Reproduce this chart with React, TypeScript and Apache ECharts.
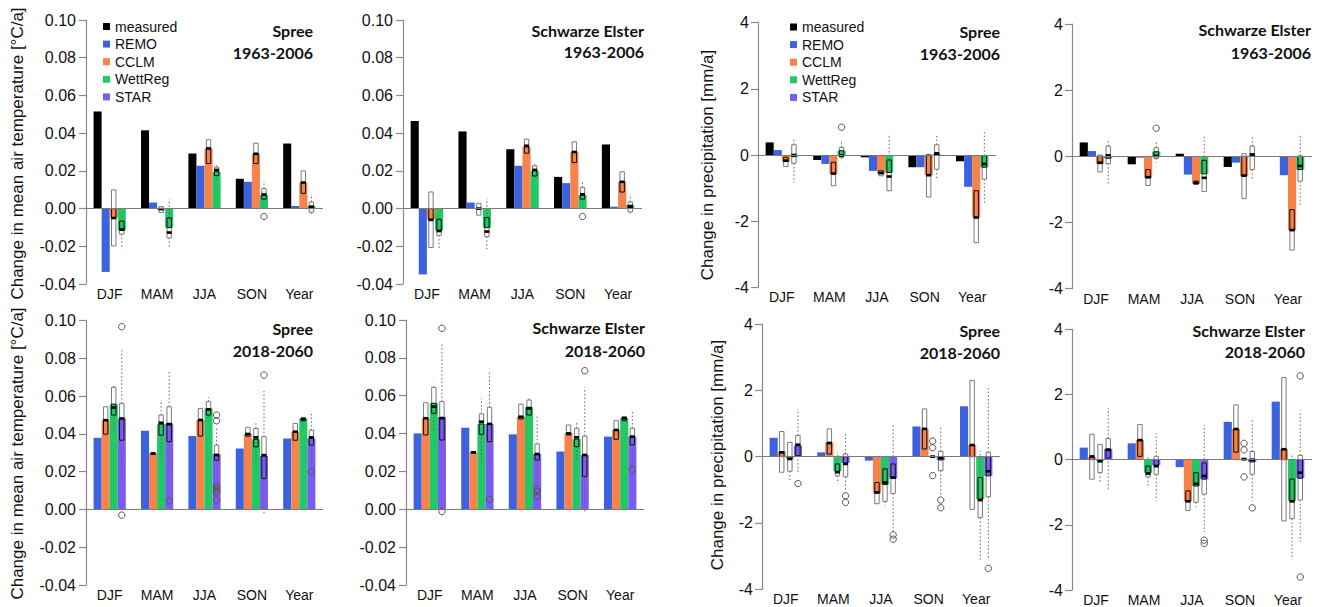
import React, { useEffect, useRef } from 'react';
import * as echarts from 'echarts';

// ---------- data ----------
const categories = ['DJF', 'MAM', 'JJA', 'SON', 'Year'];
const legendNames = ['measured', 'REMO', 'CCLM', 'WettReg', 'STAR'];

// Temperature, Spree 1963-2006
const tSpreePastMeasured = [0.0515, 0.0415, 0.0292, 0.0158, 0.0345];
const tSpreePastREMO = [-0.0336, 0.0032, 0.0227, 0.0142, 0.0014];
const tSpreePastCCLM = [-0.0048, -0.0005, 0.0319, 0.029, 0.0138];
const tSpreePastWettReg = [-0.0115, -0.0101, 0.0196, 0.0071, 0.0014];
const tSpreePastCCLMBox = [
  [-0.0198, -0.0198, -0.005, 0.0099, 0.0099],
  [-0.0021, -0.0021, -0.0003, 0.001, 0.001],
  [0.0239, 0.0239, 0.0319, 0.0365, 0.0365],
  [0.0239, 0.0239, 0.029, 0.0347, 0.0347],
  [0.0081, 0.0081, 0.0138, 0.02, 0.02],
];
const tSpreePastWettRegBox = [
  [-0.0215, -0.0135, -0.0111, -0.0067, -0.004],
  [-0.0215, -0.0155, -0.0127, -0.005, 0.005],
  [0.015, 0.0175, 0.0205, 0.022, 0.0235],
  [0.0023, 0.005, 0.0075, 0.0106, 0.0147],
  [-0.003, -0.002, 0.0008, 0.0035, 0.0076],
];
const tSpreePastWettRegOut = [[], [], [], [-0.0042], []];

// Temperature, Schwarze Elster 1963-2006
const tSEPastMeasured = [0.0465, 0.0409, 0.0315, 0.0168, 0.034];
const tSEPastREMO = [-0.0349, 0.0032, 0.0227, 0.0135, 0.001];
const tSEPastCCLM = [-0.0057, -0.0003, 0.0327, 0.0301, 0.0142];
const tSEPastWettReg = [-0.0115, -0.0101, 0.02, 0.0071, 0.0018];
const tSEPastCCLMBox = [
  [-0.0207, -0.0207, -0.006, 0.0088, 0.0088],
  [-0.0035, -0.0035, 0, 0.0028, 0.0028],
  [0.0294, 0.0294, 0.0333, 0.0368, 0.0368],
  [0.0244, 0.0244, 0.03, 0.0354, 0.0354],
  [0.0088, 0.0088, 0.0142, 0.0195, 0.0195],
];
const tSEPastWettRegBox = [
  [-0.0216, -0.0142, -0.0119, -0.0057, -0.0035],
  [-0.022, -0.0149, -0.0122, -0.0048, 0.0053],
  [0.0156, 0.0173, 0.0205, 0.0227, 0.0235],
  [0.0023, 0.005, 0.0076, 0.0111, 0.0147],
  [-0.0027, -0.0018, 0.001, 0.0035, 0.0076],
];
const tSEPastWettRegOut = [[], [], [], [-0.0042], []];

// Precipitation, Spree 1963-2006
const pSpreePastMeasured = [0.38, -0.15, -0.07, -0.37, -0.19];
const pSpreePastREMO = [0.15, -0.27, -0.48, -0.37, -0.96];
const pSpreePastCCLM = [-0.2, -0.58, -0.56, -0.61, -1.89];
const pSpreePastWettReg = [-0.05, 0.13, -0.53, 0.03, -0.37];
const pSpreePastCCLMBox = [
  [-0.35, -0.35, -0.17, -0.07, -0.07],
  [-0.93, -0.93, -0.56, -0.22, -0.22],
  [-0.63, -0.63, -0.55, -0.48, -0.48],
  [-1.27, -1.27, -0.61, 0.01, 0.01],
  [-2.65, -2.65, -1.89, -1.08, -1.08],
];
const pSpreePastWettRegBox = [
  [-0.83, -0.25, 0, 0.31, 0.49],
  [-0.19, -0.07, -0.02, 0.23, 0.44],
  [-1.1, -1.08, -0.65, -0.15, 0.64],
  [-0.73, -0.43, 0.05, 0.31, 0.59],
  [-1.51, -0.73, -0.27, -0.02, 0.69],
];
const pSpreePastWettRegOut = [[], [0.84], [], [], []];

// Precipitation, Schwarze Elster 1963-2006
const pSEPastMeasured = [0.42, -0.24, 0.08, -0.32, -0.01];
const pSEPastREMO = [0.16, -0.04, -0.55, -0.19, -0.57];
const pSEPastCCLM = [-0.22, -0.65, -0.83, -0.6, -2.23];
const pSEPastWettReg = [-0.06, 0.14, -0.53, 0.02, -0.4];
const pSEPastCCLMBox = [
  [-0.47, -0.47, -0.19, 0.04, 0.04],
  [-0.88, -0.88, -0.63, -0.4, -0.4],
  [-0.85, -0.85, -0.8, -0.75, -0.75],
  [-1.28, -1.28, -0.58, 0.08, 0.08],
  [-2.83, -2.83, -2.23, -1.61, -1.61],
];
const pSEPastWettRegBox = [
  [-0.83, -0.22, 0.03, 0.31, 0.49],
  [-0.19, -0.06, 0.01, 0.26, 0.42],
  [-1.08, -1.06, -0.65, -0.12, 0.62],
  [-0.73, -0.4, 0.06, 0.31, 0.59],
  [-1.51, -0.75, -0.29, 0.01, 0.69],
];
const pSEPastWettRegOut = [[], [0.85], [], [], []];

// Temperature, Spree 2018-2060
const tSpreeFutREMO = [0.038, 0.0417, 0.0389, 0.0323, 0.0376];
const tSpreeFutCCLM = [0.0473, 0.0297, 0.0474, 0.04, 0.0412];
const tSpreeFutWettReg = [0.0558, 0.0452, 0.0535, 0.0371, 0.0482];
const tSpreeFutSTAR = [0.0482, 0.0456, 0.0293, 0.0283, 0.0376];
const tSpreeFutCCLMBox = [
  [0.0399, 0.0399, 0.0473, 0.0544, 0.0544],
  [0.0293, 0.0293, 0.0297, 0.0299, 0.0299],
  [0.0389, 0.0389, 0.0474, 0.0535, 0.0535],
  [0.0389, 0.0389, 0.04, 0.0435, 0.0435],
  [0.0367, 0.0367, 0.0412, 0.0456, 0.0456],
];
const tSpreeFutWettRegBox = [
  [0.041, 0.05, 0.054, 0.0647, 0.0665],
  [0.0253, 0.0394, 0.0459, 0.05, 0.058],
  [0.0488, 0.05, 0.053, 0.0571, 0.0594],
  [0.0253, 0.0332, 0.0382, 0.0429, 0.0459],
  [0.0468, 0.047, 0.0479, 0.0488, 0.049],
];
const tSpreeFutSTARBox = [
  [0.0129, 0.0367, 0.0482, 0.0562, 0.0845],
  [0.0191, 0.0359, 0.0452, 0.0544, 0.073],
  [0.014, 0.0261, 0.0288, 0.0341, 0.043],
  [-0.002, 0.0164, 0.0288, 0.0385, 0.0641],
  [0.0217, 0.0341, 0.0382, 0.042, 0.0518],
];
const tSpreeFutSTAROut = [
  [0.0968, -0.003],
  [0.0046],
  [0.05, 0.047, 0.0125, 0.0115, 0.0102, 0.009, 0.005],
  [0.0712],
  [0.02],
];

// Temperature, Schwarze Elster 2018-2060
const tSEFutREMO = [0.0401, 0.0431, 0.0396, 0.0305, 0.0384];
const tSEFutCCLM = [0.0481, 0.0301, 0.0489, 0.0401, 0.0419];
const tSEFutWettReg = [0.056, 0.0451, 0.0539, 0.037, 0.0481];
const tSEFutSTAR = [0.0486, 0.0451, 0.0292, 0.0287, 0.0384];
const tSEFutCCLMBox = [
  [0.0393, 0.0393, 0.0481, 0.0563, 0.0563],
  [0.0297, 0.0297, 0.0301, 0.0303, 0.0303],
  [0.0477, 0.0477, 0.0489, 0.0555, 0.0555],
  [0.0393, 0.0393, 0.0401, 0.0445, 0.0445],
  [0.037, 0.037, 0.0419, 0.0468, 0.0468],
];
const tSEFutWettRegBox = [
  [0.0419, 0.0507, 0.0542, 0.0644, 0.0665],
  [0.0252, 0.0396, 0.0463, 0.0504, 0.0586],
  [0.0493, 0.0498, 0.0533, 0.0577, 0.0595],
  [0.0261, 0.0331, 0.038, 0.0428, 0.0463],
  [0.0466, 0.0468, 0.0481, 0.049, 0.0492],
];
const tSEFutSTARBox = [
  [0.0141, 0.0366, 0.0481, 0.0569, 0.0877],
  [0.0181, 0.0357, 0.0451, 0.0539, 0.0722],
  [0.012, 0.0261, 0.0292, 0.0345, 0.0489],
  [-0.0018, 0.0173, 0.0287, 0.0387, 0.0644],
  [0.0217, 0.034, 0.0384, 0.0428, 0.0521],
];
const tSEFutSTAROut = [
  [0.0956, -0.0012],
  [0.0053],
  [0.0106, 0.0093, 0.0067],
  [0.0732],
  [0.0211],
];

// Precipitation, Spree 2018-2060
const pSpreeFutREMO = [0.57, 0.13, -0.12, 0.91, 1.52];
const pSpreeFutCCLM = [0.15, 0.43, -1.1, 0.84, 0.35];
const pSpreeFutWettReg = [-0.05, -0.44, -0.84, 0.0, -1.28];
const pSpreeFutSTAR = [0.33, -0.19, -0.66, -0.1, -0.58];
const pSpreeFutCCLMBox = [
  [-0.47, -0.47, 0.13, 0.76, 0.76],
  [0.08, 0.08, 0.41, 0.84, 0.84],
  [-1.42, -1.42, -1.08, -0.78, -0.78],
  [0.23, 0.23, 0.84, 1.44, 1.44],
  [-1.59, -1.59, 0.35, 2.3, 2.3],
];
const pSpreeFutWettRegBox = [
  [-0.73, -0.44, -0.07, 0.43, 0.43],
  [-0.81, -0.58, -0.47, -0.22, 0.13],
  [-1.48, -1.35, -0.78, -0.37, -0.37],
  [-0.02, -0.02, 0.0, 0.02, 0.02],
  [-3.15, -1.84, -1.31, -0.63, 0.18],
];
const pSpreeFutWettRegOut = [[], [], [], [0.47, 0.27, -0.57], []];
const pSpreeFutSTARBox = [
  [-0.53, 0.03, 0.36, 0.64, 1.44],
  [-1.05, -0.61, -0.22, 0.08, 0.71],
  [-2.29, -1.11, -0.63, -0.22, 0.94],
  [-1.18, -0.42, -0.04, 0.16, 0.89],
  [-3.1, -1.21, -0.44, 0.13, 2.13],
];
const pSpreeFutSTAROut = [[-0.81], [-1.18, -1.38], [-2.36, -2.49], [-1.31, -1.54], [-3.37]];

// Precipitation, Schwarze Elster 2018-2060
const pSEFutREMO = [0.37, 0.5, -0.23, 1.16, 1.78];
const pSEFutCCLM = [0.07, 0.6, -1.28, 0.94, 0.32];
const pSEFutWettReg = [-0.03, -0.4, -0.81, 0.0, -1.26];
const pSEFutSTAR = [0.33, -0.17, -0.6, -0.07, -0.57];
const pSEFutCCLMBox = [
  [-0.6, -0.6, 0.1, 0.78, 0.78],
  [0.1, 0.1, 0.6, 1.08, 1.08],
  [-1.56, -1.56, -1.28, -0.96, -0.96],
  [0.23, 0.23, 0.94, 1.68, 1.68],
  [-1.88, -1.88, 0.32, 2.52, 2.52],
];
const pSEFutWettRegBox = [
  [-0.71, -0.4, -0.05, 0.47, 0.47],
  [-0.81, -0.53, -0.43, -0.2, 0.15],
  [-1.46, -1.31, -0.74, -0.4, -0.4],
  [-0.02, -0.02, 0.02, 0.03, 0.03],
  [-3.07, -1.81, -1.28, -0.6, 0.2],
];
const pSEFutWettRegOut = [[], [], [], [0.5, 0.3, -0.53], []];
const pSEFutSTARBox = [
  [-0.96, 0.05, 0.3, 0.65, 1.58],
  [-1.26, -0.45, -0.2, 0.1, 0.81],
  [-2.22, -1.06, -0.5, -0.1, 1.06],
  [-1.26, -0.45, 0.0, 0.25, 1.21],
  [-2.52, -1.24, -0.4, 0.13, 1.51],
];
const pSEFutSTAROut = [[], [], [-2.47, -2.57], [-1.48], [2.57, -3.6]];

// ---------- styling ----------
const COLORS: Record<string, string> = {
  measured: '#000000',
  REMO: '#3d62e0',
  CCLM: '#f7834b',
  WettReg: '#20c965',
  STAR: '#7b5cf2',
};
const FONT = '"Liberation Sans", Arial, sans-serif';
const TITLE_FONT = 'Lato, "Open Sans", sans-serif';
const CAT_GAP = 0.32;

type BoxDef = { name: string; barIdx: number; stats: number[][]; out?: number[][]; bars: number[] };
type Panel = {
  grid: { left: number; top: number; width: number; height: number };
  kind: 'temp' | 'precip';
  title: [string, string];
  titlePos: [number, number, number];
  bars: { name: string; values: number[] }[];
  boxes: BoxDef[];
};

const empty5 = [[], [], [], [], []];

const panels: Panel[] = [
  {
    grid: { left: 86, top: 20, width: 237, height: 264 },
    kind: 'temp', title: ['Spree', '1963-2006'], titlePos: [313, 30.7, 52.3],
    bars: [
      { name: 'measured', values: tSpreePastMeasured },
      { name: 'REMO', values: tSpreePastREMO },
      { name: 'CCLM', values: tSpreePastCCLM },
      { name: 'WettReg', values: tSpreePastWettReg },
    ],
    boxes: [
      { name: 'CCLM', barIdx: 2, stats: tSpreePastCCLMBox, bars: tSpreePastCCLM },
      { name: 'WettReg', barIdx: 3, stats: tSpreePastWettRegBox, out: tSpreePastWettRegOut, bars: tSpreePastWettReg },
    ],
  },
  {
    grid: { left: 403, top: 20, width: 239, height: 264 },
    kind: 'temp', title: ['Schwarze Elster', '1963-2006'], titlePos: [644, 30, 51.7],
    bars: [
      { name: 'measured', values: tSEPastMeasured },
      { name: 'REMO', values: tSEPastREMO },
      { name: 'CCLM', values: tSEPastCCLM },
      { name: 'WettReg', values: tSEPastWettReg },
    ],
    boxes: [
      { name: 'CCLM', barIdx: 2, stats: tSEPastCCLMBox, bars: tSEPastCCLM },
      { name: 'WettReg', barIdx: 3, stats: tSEPastWettRegBox, out: tSEPastWettRegOut, bars: tSEPastWettReg },
    ],
  },
  {
    grid: { left: 758, top: 22.7, width: 238, height: 264.6 },
    kind: 'precip', title: ['Spree', '1963-2006'], titlePos: [1000, 31, 53.3],
    bars: [
      { name: 'measured', values: pSpreePastMeasured },
      { name: 'REMO', values: pSpreePastREMO },
      { name: 'CCLM', values: pSpreePastCCLM },
      { name: 'WettReg', values: pSpreePastWettReg },
    ],
    boxes: [
      { name: 'CCLM', barIdx: 2, stats: pSpreePastCCLMBox, bars: pSpreePastCCLM },
      { name: 'WettReg', barIdx: 3, stats: pSpreePastWettRegBox, out: pSpreePastWettRegOut, bars: pSpreePastWettReg },
    ],
  },
  {
    grid: { left: 1072, top: 24, width: 240, height: 264.7 },
    kind: 'precip', title: ['Schwarze Elster', '1963-2006'], titlePos: [1311, 29.7, 52.3],
    bars: [
      { name: 'measured', values: pSEPastMeasured },
      { name: 'REMO', values: pSEPastREMO },
      { name: 'CCLM', values: pSEPastCCLM },
      { name: 'WettReg', values: pSEPastWettReg },
    ],
    boxes: [
      { name: 'CCLM', barIdx: 2, stats: pSEPastCCLMBox, bars: pSEPastCCLM },
      { name: 'WettReg', barIdx: 3, stats: pSEPastWettRegBox, out: pSEPastWettRegOut, bars: pSEPastWettReg },
    ],
  },
  {
    grid: { left: 86, top: 320.7, width: 237, height: 264.3 },
    kind: 'temp', title: ['Spree', '2018-2060'], titlePos: [313, 328.3, 350.7],
    bars: [
      { name: 'REMO', values: tSpreeFutREMO },
      { name: 'CCLM', values: tSpreeFutCCLM },
      { name: 'WettReg', values: tSpreeFutWettReg },
      { name: 'STAR', values: tSpreeFutSTAR },
    ],
    boxes: [
      { name: 'CCLM', barIdx: 1, stats: tSpreeFutCCLMBox, bars: tSpreeFutCCLM },
      { name: 'WettReg', barIdx: 2, stats: tSpreeFutWettRegBox, bars: tSpreeFutWettReg },
      { name: 'STAR', barIdx: 3, stats: tSpreeFutSTARBox, out: tSpreeFutSTAROut, bars: tSpreeFutSTAR },
    ],
  },
  {
    grid: { left: 406, top: 320, width: 238, height: 265 },
    kind: 'temp', title: ['Schwarze Elster', '2018-2060'], titlePos: [645, 327.7, 350],
    bars: [
      { name: 'REMO', values: tSEFutREMO },
      { name: 'CCLM', values: tSEFutCCLM },
      { name: 'WettReg', values: tSEFutWettReg },
      { name: 'STAR', values: tSEFutSTAR },
    ],
    boxes: [
      { name: 'CCLM', barIdx: 1, stats: tSEFutCCLMBox, bars: tSEFutCCLM },
      { name: 'WettReg', barIdx: 2, stats: tSEFutWettRegBox, bars: tSEFutWettReg },
      { name: 'STAR', barIdx: 3, stats: tSEFutSTARBox, out: tSEFutSTAROut, bars: tSEFutSTAR },
    ],
  },
  {
    grid: { left: 762, top: 324, width: 238, height: 265.3 },
    kind: 'precip', title: ['Spree', '2018-2060'], titlePos: [1000, 330.7, 352.7],
    bars: [
      { name: 'REMO', values: pSpreeFutREMO },
      { name: 'CCLM', values: pSpreeFutCCLM },
      { name: 'WettReg', values: pSpreeFutWettReg },
      { name: 'STAR', values: pSpreeFutSTAR },
    ],
    boxes: [
      { name: 'CCLM', barIdx: 1, stats: pSpreeFutCCLMBox, bars: pSpreeFutCCLM },
      { name: 'WettReg', barIdx: 2, stats: pSpreeFutWettRegBox, out: pSpreeFutWettRegOut, bars: pSpreeFutWettReg },
      { name: 'STAR', barIdx: 3, stats: pSpreeFutSTARBox, out: pSpreeFutSTAROut, bars: pSpreeFutSTAR },
    ],
  },
  {
    grid: { left: 1072, top: 329.3, width: 240, height: 264 },
    kind: 'precip', title: ['Schwarze Elster', '2018-2060'], titlePos: [1305, 330, 351.7],
    bars: [
      { name: 'REMO', values: pSEFutREMO },
      { name: 'CCLM', values: pSEFutCCLM },
      { name: 'WettReg', values: pSEFutWettReg },
      { name: 'STAR', values: pSEFutSTAR },
    ],
    boxes: [
      { name: 'CCLM', barIdx: 1, stats: pSEFutCCLMBox, bars: pSEFutCCLM },
      { name: 'WettReg', barIdx: 2, stats: pSEFutWettRegBox, out: pSEFutWettRegOut, bars: pSEFutWettReg },
      { name: 'STAR', barIdx: 3, stats: pSEFutSTARBox, out: pSEFutSTAROut, bars: pSEFutSTAR },
    ],
  },
];

function makeBoxRenderer(nBars: number, barIdx: number, color: string, outliers: number[][]) {
  return (params: any, api: any) => {
    const cat = api.value(0);
    const lo = api.value(1), q1 = api.value(2), med = api.value(3), q3 = api.value(4), hi = api.value(5), bar = api.value(6);
    const band = api.size([1, 0])[0];
    const avail = band * (1 - CAT_GAP);
    const bw = avail / nBars;
    const cx = api.coord([cat, 0])[0] - avail / 2 + bw * (barIdx + 0.5);
    const y = (v: number) => api.coord([cat, v])[1];
    const hw = 2.2;
    const children: any[] = [];
    const dotted = { stroke: '#666', lineWidth: 1, lineDash: [1.5, 2.2] };
    if (hi > q3) children.push({ type: 'line', shape: { x1: cx, y1: y(q3), x2: cx, y2: y(hi) }, style: dotted });
    if (lo < q1) children.push({ type: 'line', shape: { x1: cx, y1: y(q1), x2: cx, y2: y(lo) }, style: dotted });
    children.push({
      type: 'rect',
      shape: { x: cx - hw, y: y(q3), width: hw * 2, height: Math.max(0.5, y(q1) - y(q3)) },
      style: { fill: '#ffffff', stroke: '#7a7a7a', lineWidth: 1 },
    });
    const a = Math.max(q1, Math.min(0, bar));
    const b = Math.min(q3, Math.max(0, bar));
    if (b > a) {
      children.push({
        type: 'rect',
        shape: { x: cx - hw, y: y(b), width: hw * 2, height: y(a) - y(b) },
        style: { fill: color, stroke: '#111', lineWidth: 1 },
      });
    }
    children.push({
      type: 'rect',
      shape: { x: cx - hw - 0.3, y: y(med) - 1.3, width: hw * 2 + 0.6, height: 2.6 },
      style: { fill: '#000' },
    });
    (outliers[params.dataIndex] || []).forEach((o) => {
      children.push({
        type: 'circle',
        shape: { cx, cy: y(o), r: 3.2 },
        style: { fill: 'none', stroke: '#555', lineWidth: 1 },
      });
    });
    return { type: 'group', children };
  };
}

function buildOption() {
  const grid: any[] = [];
  const xAxis: any[] = [];
  const yAxis: any[] = [];
  const series: any[] = [];
  const graphic: any[] = [];

  panels.forEach((p, k) => {
    grid.push({ ...p.grid, containLabel: false });
    xAxis.push({
      type: 'category', gridIndex: k, data: categories,
      axisLine: { show: false }, axisTick: { show: false },
      axisLabel: { fontSize: 14, color: '#111', fontFamily: FONT, margin: 3 },
    });
    const isT = p.kind === 'temp';
    yAxis.push({
      type: 'value', gridIndex: k,
      min: isT ? -0.04 : -4, max: isT ? 0.1 : 4, interval: isT ? 0.02 : 2,
      splitLine: { show: false },
      axisLine: { show: true, lineStyle: { color: '#8a8a8a', width: 1.2 } },
      axisTick: { show: true, length: 7, lineStyle: { color: '#8a8a8a', width: 1.2 } },
      axisLabel: {
        fontSize: 16, color: '#111', fontFamily: FONT, margin: isT ? 10 : 9,
        formatter: (v: number) => (isT ? v.toFixed(2) : String(Math.round(v))),
      },
    });
    const n = p.bars.length;
    p.bars.forEach((b, i) => {
      const s: any = {
        type: 'bar', name: b.name, xAxisIndex: k, yAxisIndex: k,
        data: b.values, barGap: '0%', barCategoryGap: `${CAT_GAP * 100}%`,
        itemStyle: { color: COLORS[b.name] }, z: 2,
      };
      if (i === 0) {
        s.markLine = {
          silent: true, symbol: ['none', 'none'], animation: false,
          label: { show: false },
          lineStyle: { color: '#7a7a7a', width: 1.2, type: 'solid' },
          data: [{ yAxis: 0 }],
        };
      }
      series.push(s);
    });
    p.boxes.forEach((bx) => {
      series.push({
        type: 'custom', name: bx.name, xAxisIndex: k, yAxisIndex: k, z: 4,
        renderItem: makeBoxRenderer(n, bx.barIdx, COLORS[bx.name], bx.out || empty5),
        encode: { x: 0, y: [1, 2, 3, 4, 5] },
        itemStyle: { color: COLORS[bx.name] },
        data: bx.stats.map((st, i) => [i, st[0], st[1], st[2], st[3], st[4], bx.bars[i]]),
      });
    });
    const [rx, y1, y2] = p.titlePos;
    graphic.push({
      type: 'text', x: rx, y: y1,
      style: { text: p.title[0], font: `bold 16px ${TITLE_FONT}`, fill: '#111', textAlign: 'right', textVerticalAlign: 'middle' },
    });
    graphic.push({
      type: 'text', x: rx, y: y2,
      style: { text: p.title[1], font: `bold 16px ${TITLE_FONT}`, fill: '#111', textAlign: 'right', textVerticalAlign: 'middle' },
    });
  });

  const yTitles = [
    { text: 'Change in mean air temperature [°C/a]', x: 17, y: 153.5 },
    { text: 'Change in mean air temperature [°C/a]', x: 17, y: 453.5 },
    { text: 'Change in precipitation [mm/a]', x: 707, y: 165 },
    { text: 'Change in precipitation [mm/a]', x: 717, y: 455 },
  ];
  yTitles.forEach((t) => {
    graphic.push({
      type: 'text', x: t.x, y: t.y, rotation: Math.PI / 2,
      style: { text: t.text, font: `17px ${FONT}`, fill: '#111', textAlign: 'center', textVerticalAlign: 'middle' },
    });
  });

  const legendBase = {
    data: legendNames, orient: 'vertical', padding: 0, icon: 'rect',
    itemWidth: 7, itemHeight: 7, itemGap: 3.6, selectedMode: false,
    textStyle: { fontSize: 14, color: '#111', fontFamily: FONT, lineHeight: 14 },
  };

  return {
    animation: false,
    backgroundColor: '#ffffff',
    legend: [
      { ...legendBase, left: 103, top: 19.5 },
      { ...legendBase, left: 790, top: 20 },
    ],
    grid, xAxis, yAxis, series, graphic,
  };
}

export default function App() {
  const ref = useRef<HTMLDivElement>(null);
  useEffect(() => {
    if (!ref.current) return;
    const chart = echarts.init(ref.current, undefined, { renderer: 'svg' });
    chart.setOption(buildOption() as any);
    return () => chart.dispose();
  }, []);
  return (
    <div
      ref={ref}
      style={{ position: 'fixed', left: 0, top: 0, width: 1323, height: 607, background: '#fff' }}
    />
  );
}
